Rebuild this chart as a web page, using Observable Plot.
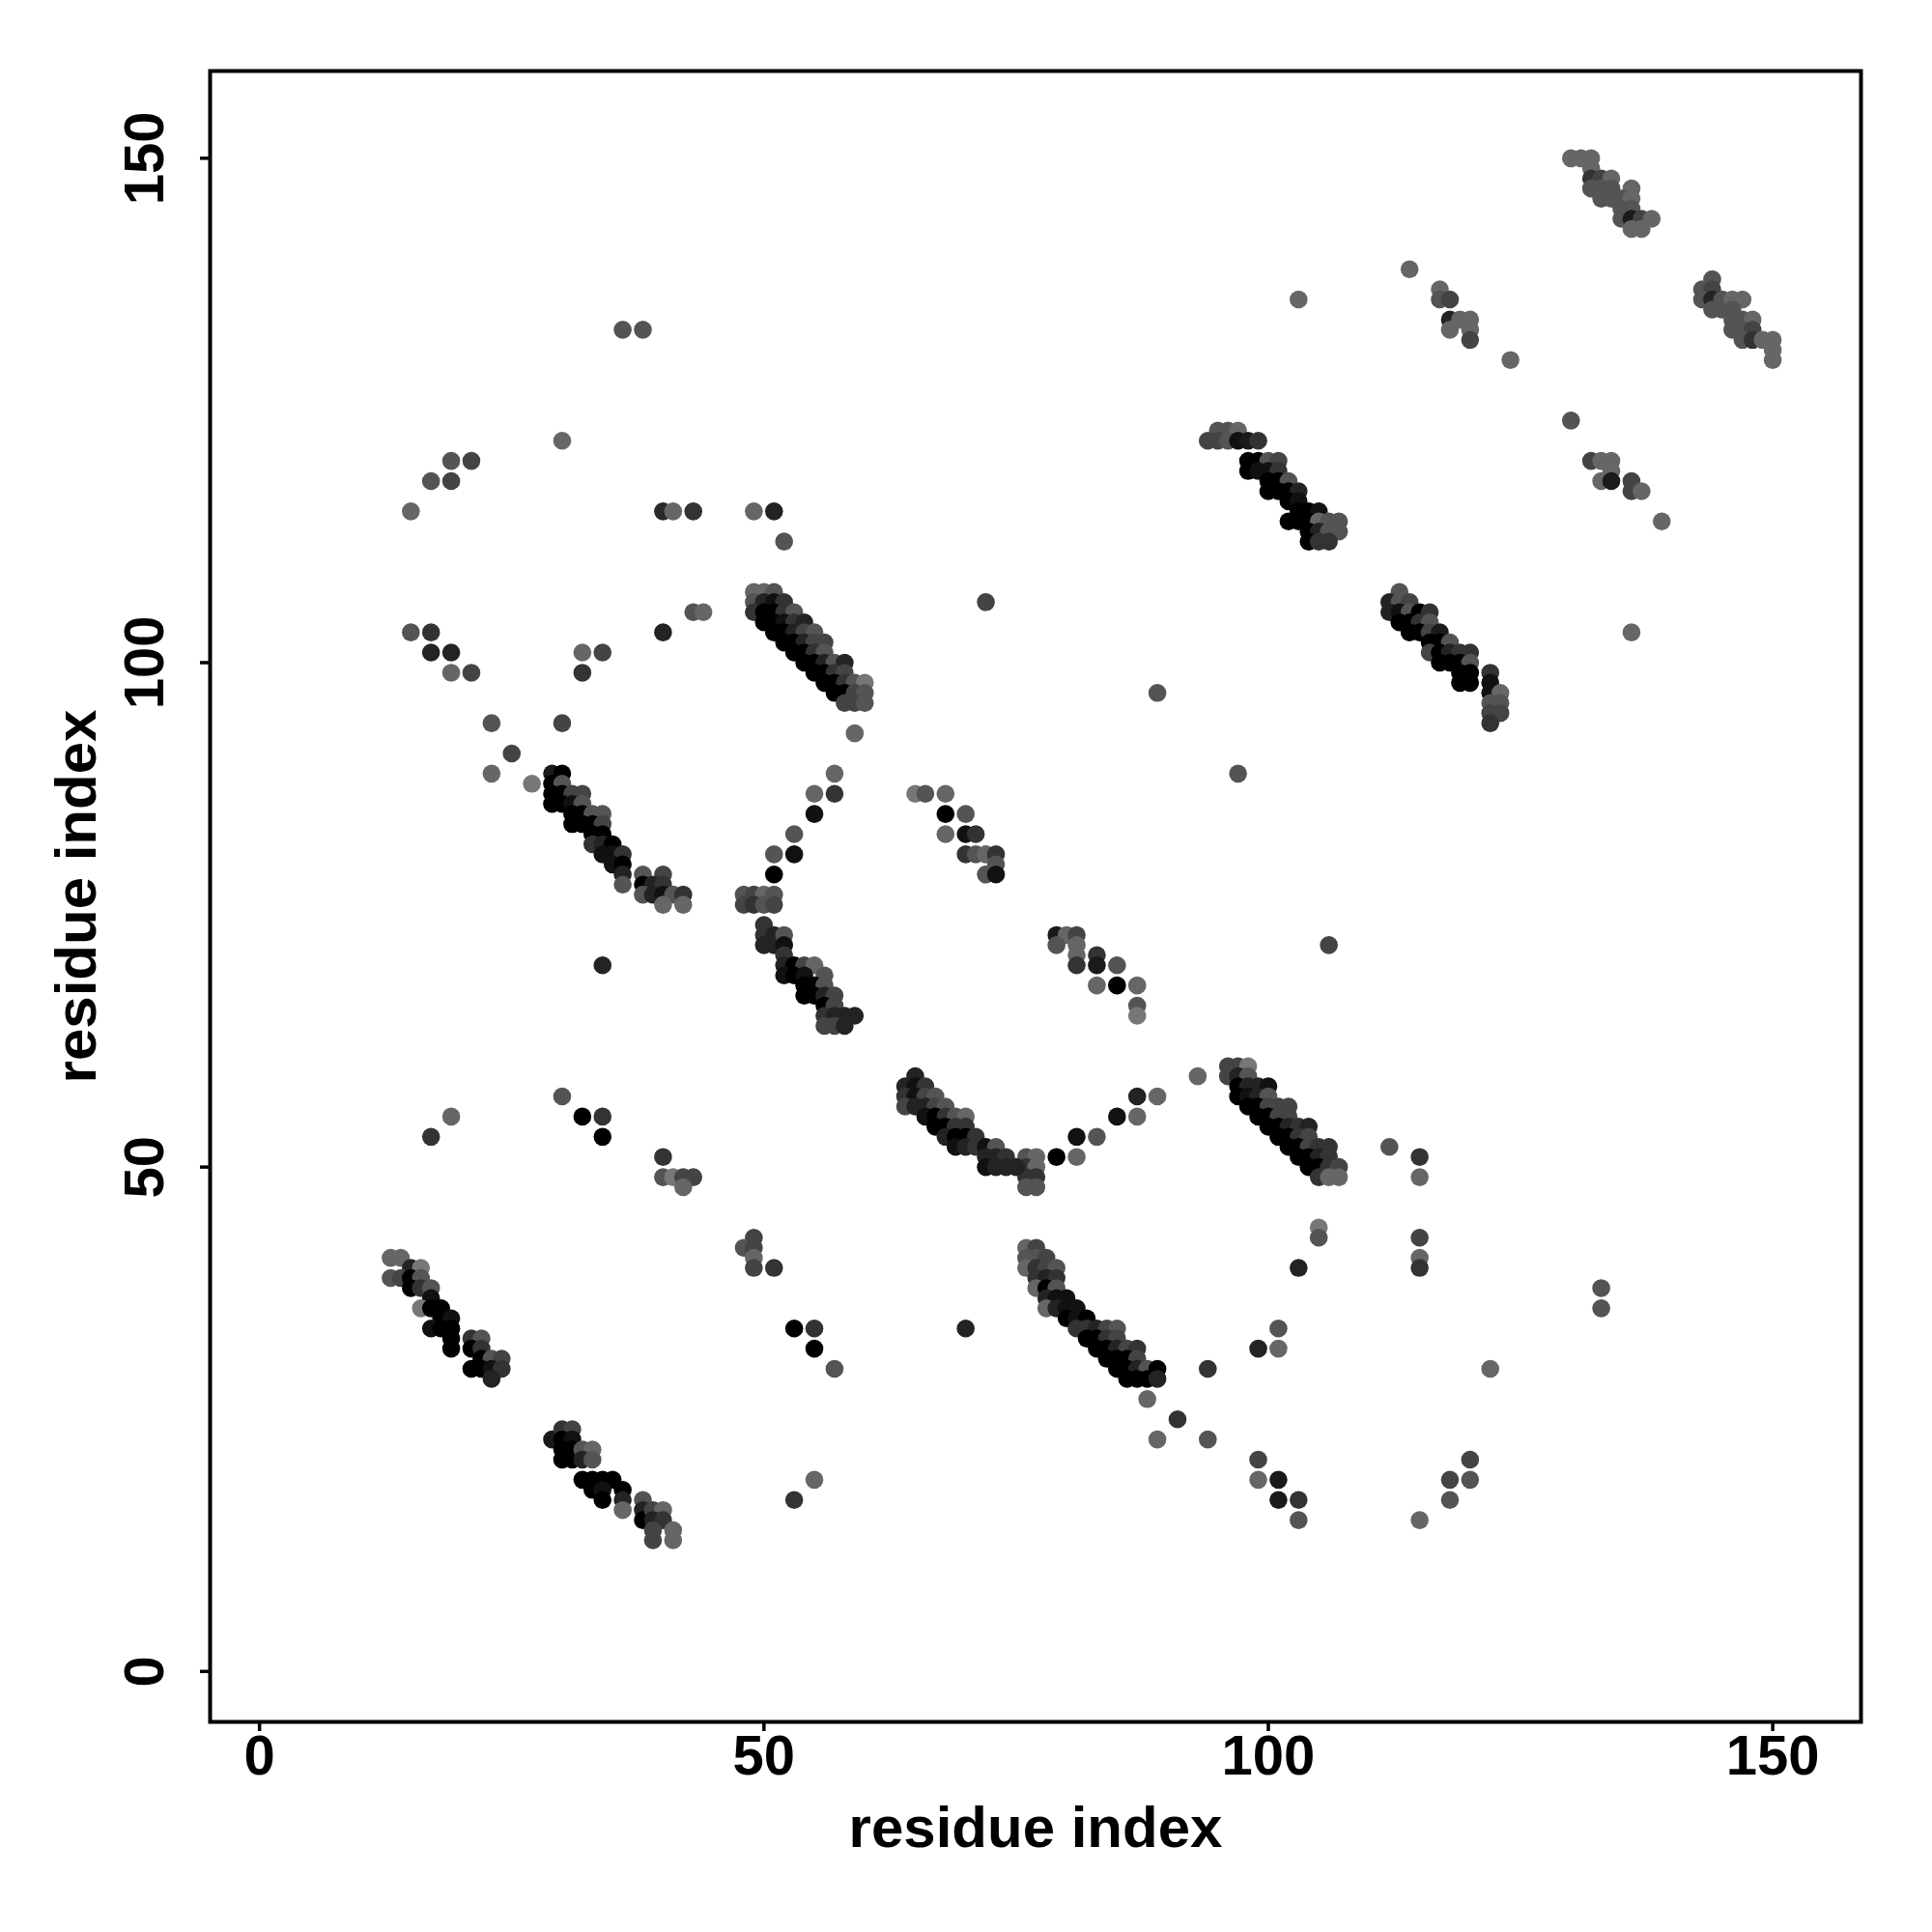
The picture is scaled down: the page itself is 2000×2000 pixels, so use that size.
<!DOCTYPE html>
<html><head><meta charset="utf-8">
<script src="https://cdn.jsdelivr.net/npm/d3@7"></script>
<script src="https://cdn.jsdelivr.net/npm/@observablehq/plot@0.6"></script>
<style>body{margin:0;background:#fff}</style>
</head><body><div id="chart"></div>
<script>
// each entry: [residue i (x), residue j (y), contact score 0..1 (1 = darkest)]
const singles = [
[36,133,.29],[38,133,.29],[30,122,.14],[19,120,.29],[21,120,.43],[17,118,.29],[19,118,.43],[15,115,.14],[40,115,.65],[41,115,.14],[43,115,.57],[43,105,.29],[44,105,.14],
[49,115,.14],[51,115,.71],[52,112,.29],[72,106,.43],[103,136,.14],[114,139,.14],
[124,130,.14],[130,124,.29],[139,114,.14],
[15,103,.29],[17,103,.57],[17,101,.71],[19,101,.71],[19,99,.14],[21,99,.43],[32,101,.14],[34,101,.43],[32,99,.57],[40,103,.71],
[23,94,.29],[30,94,.43],[25,91,.43],[23,89,.14],[27,88,0],[34,70,.71],[59,93,.14],
[89,97,.29],[97,89,.29],[106,72,.43],[93,59,.14],[136,103,.14],
[30,57,.29],[19,55,.14],[17,53,.57],[32,55,1],[34,55,.57],[34,53,1],
[40,51,.57],[40,49,.29],[41,49,0],[42,49,.43],[43,49,.43],[42,48,.14],
[49,43,.43],[48,42,.29],[49,42,.43],[49,41,.14],[49,40,.43],[51,40,.57],
[53,34,1],[55,34,.57],[55,32,1],[57,30,.29],[70,34,.71],[55,19,.14],[53,17,.57],
[79,51,1],[81,51,.14],[81,53,.86],[83,53,.29],[85,55,.86],[87,55,.14],[87,57,.71],[89,57,.14],
[88,27,.14],[91,25,.57],[89,23,.14],[94,23,.29],[94,30,.57],
[105,44,0],[105,43,.29],[103,40,.71],[112,52,.29],[115,51,.57],[115,49,.14],[115,43,.43],[115,41,.14],[115,40,.57],
[101,34,.29],[99,32,.71],[101,32,.14],
[99,21,.43],[99,19,.14],[101,19,.78],[101,17,.78],[103,17,.57],[103,15,.29],[115,15,.14],
[133,38,.29],[133,36,.29],[122,30,.14],[120,21,.43],[118,19,.43],[120,19,.29],[118,17,.29]
];
const smallClusters = [
[57,89,.14],[55,87,.14],[57,87,.57],[55,85,.86],[53,83,.29],[51,81,.29],[53,81,.86],[51,79,1],
[48,77,.29],[49,77,.43],[50,77,.14],[51,77,.29],[48,76,.43],[49,76,.57],[50,76,.29],[51,76,.43],
[65,87,0],[66,87,.29],[68,87,.14],[68,85,1],[70,85,.29],[68,83,.14],[70,83,.86],[71,83,.57],[70,81,.57],[71,81,.29],[72,81,.14],[73,81,.57],[73,80,.29],[72,79,.29],[73,79,.86],
[79,73,.78],[80,73,.14],[81,73,.43],[79,72,.29],[81,72,.14],[81,71,.14],[81,70,.57],[83,71,.57],[83,70,.78],[85,70,.29],[83,68,.14],[85,68,1],[87,68,.14],[87,66,.29],[87,65,0],
[76,51,.29],[77,51,.14],[76,50,.57],[77,50,.14],[76,49,.57],[77,49,.57],[76,48,.29],[77,48,.29],
[117,137,.14],[117,136,.29],[118,136,.43],[118,134,.71],[119,134,.14],[120,134,.14],[118,133,.14],[120,133,.14],[120,132,.43],
[132,120,.43],[133,120,.14],[134,120,.14],[134,119,.14],[133,118,.14],[134,118,.78],[136,118,.43],[136,117,.43],[137,117,.14]
];
const streakA = [
[95,123,.29],[96,123,.29],[97,123,.14],
[94,122,.43],[95,122,.43],[96,122,.29],[97,122,.86],[98,122,.78],[99,122,.57],
[98,120,1],[99,120,1],[100,120,.29],[101,120,.43],
[98,119,1],[99,119,.86],[100,119,.86],[101,119,.57],
[100,118,1],[101,118,1],[102,118,.29],
[100,117,1],[101,117,1],[102,117,1],[103,117,.71],
[102,116,1],[103,116,.86],
[103,115,1],[104,115,1],[105,115,.86],
[102,114,1],[103,114,1],[104,114,1],[105,114,.14],[106,114,.29],[107,114,.29],
[104,113,1],[105,113,.71],[106,113,.29],[107,113,.29],
[104,112,1],[105,112,.57],[106,112,.57]
];
const streakB = [
[130,150,.14],[131,150,.14],[132,150,.14],[132,149,.14],[132,148,.57],[133,148,.43],[134,148,.14],
[132,147,.29],[133,147,.29],[134,147,.29],[136,147,.14],[133,146,.29],[134,146,.29],[135,146,.29],[136,146,.14],
[135,145,.29],[136,145,.29],[135,144,.29],[136,144,.78],[137,144,.43],[138,144,.14],[136,143,.14],[137,143,.14]
];
const streakC = [
[144,138,.29],[143,137,.29],[144,137,.43],[143,136,.29],[144,136,.71],[144,135,.29],[145,136,.29],[145,135,.29],
[146,136,.14],[147,136,.14],[146,135,.29],[146,134,.29],[147,134,.29],[148,134,.14],[146,133,.29],[147,133,.29],
[148,133,.43],[147,132,.29],[148,132,.57],[149,132,.14],[150,132,.14],[150,131,.14],[150,130,.14]
];
const streakD = [
[29,89,.78],[30,89,1],[29,88,1],[30,88,.29],[29,87,1],[30,87,1],[31,87,.43],[32,87,.43],
[29,86,1],[30,86,1],[31,86,.86],[32,86,.29],[31,85,1],[32,85,1],[33,85,.29],[34,85,.29],
[31,84,1],[32,84,1],[33,84,1],[34,84,.43],[33,83,1],[34,83,1],[33,82,.57],[34,82,.71],[35,82,1],
[34,81,.86],[35,81,.86],[36,81,.57],[35,80,.86],[36,80,1],[36,79,.71],[38,79,.29],[40,79,.43],
[36,78,.29],[38,78,1],[39,78,.71],[40,78,.57],[38,77,.29],[39,77,.71],[40,77,.86],[41,77,.29],[42,77,.57],
[40,76,.14],[42,76,.14]
];
const streakE = [
[49,107,.14],[50,107,.14],[51,107,.29],
[49,106,.29],[50,106,.71],[51,106,.86],[52,106,.57],
[49,105,.57],[50,105,1],[51,105,1],[52,105,.57],[53,105,.29],
[50,104,1],[51,104,1],[52,104,.86],[53,104,.57],[54,104,.71],
[51,103,1],[52,103,1],[53,103,.71],[54,103,.43],[55,103,.29],
[52,102,1],[53,102,1],[54,102,.71],[55,102,.43],[56,102,.43],
[53,101,1],[54,101,1],[55,101,.57],[56,101,.29],
[54,100,1],[55,100,1],[56,100,.71],[57,100,.29],[58,100,.71],
[55,99,1],[56,99,1],[57,99,.57],[58,99,.43],
[56,98,1],[57,98,1],[58,98,.57],[59,98,.29],[60,98,0],
[57,97,1],[58,97,1],[59,97,.43],[60,97,.29],
[58,96,.43],[59,96,.43],[60,96,.29]
];
const streakF = [
[50,74,.57],[50,73,.57],[51,73,.71],[50,72,.71],[51,72,.71],[52,73,.29],[52,72,.86],[52,71,.57],
[52,70,.71],[53,70,1],[54,70,.43],[55,70,.14],[52,69,.86],[53,69,1],[54,69,.86],[56,69,.29],
[54,68,1],[55,68,1],[56,68,.29],[54,67,1],[55,67,1],[56,67,.71],[57,67,.43],[56,66,1],[57,66,.43],
[56,65,.57],[57,65,.71],[58,65,.71],[59,65,.71],[56,64,.43],[57,64,.43],[58,64,.71]
];
const streakH = [
[113,107,.29],[112,106,.71],[113,106,.29],[114,106,.43],
[112,105,.71],[113,105,.86],[114,105,.29],[115,105,1],[116,105,.57],
[113,104,1],[114,104,1],[115,104,.57],[116,104,.29],
[114,103,1],[115,103,1],[116,103,.43],[117,103,.78],
[116,102,1],[117,102,1],[118,102,.29],
[116,101,.43],[117,101,1],[118,101,.71],[119,101,.57],[120,101,.57],
[117,100,1],[118,100,1],[119,100,1],[120,100,.29],
[119,99,1],[120,99,1],[122,99,.57],[119,98,1],[120,98,1],[122,98,.86],
[122,97,.86],[123,97,.14],[122,96,.29],[123,96,.29],[122,95,.43],[123,95,.43],[122,94,.57]
];
const streakI = [
[13,41,.14],[14,41,.14],[15,40,.71],[16,40,0],[13,39,.29],[14,39,.43],[15,39,1],[16,39,.29],
[15,38,1],[16,38,.57],[17,38,.29],[17,37,.86],[16,36,0],[17,36,1],[18,36,1],[18,35,1],[19,35,.86],
[17,34,.86],[18,34,1],[19,34,1],[19,33,1],[19,32,1],[21,33,.57],[22,33,.29],[21,32,1],[22,32,.57],
[22,31,1],[23,31,.29],[24,31,.43],[21,30,1],[22,30,1],[23,30,.86],[24,30,.57],[23,29,.71]
];
const streakJ = [
[29,23,.78],[30,24,.57],[31,24,.43],[30,23,1],[31,23,.86],[30,22,1],[31,22,1],[30,21,1],[31,21,1],
[32,22,.29],[33,22,.14],[32,21,.71],[33,21,.29],[32,19,1],[33,19,1],[34,19,1],[35,19,1],
[33,18,1],[34,18,.86],[34,17,1],[36,18,1],[36,17,.71],[36,16,.14],[38,17,.29],[38,16,.71],
[38,15,1],[39,16,.43],[40,16,.14],[39,15,.71],[40,15,.57],[39,14,.43],[41,14,.14],[39,13,.43],[41,13,.14]
];
const streakK = [
[65,59,.71],[64,58,.71],[65,58,.86],[66,58,.57],
[64,57,.57],[65,57,.86],[66,57,.43],[67,57,.29],
[64,56,.43],[65,56,.71],[66,56,.71],[67,56,.43],[68,56,.29],
[66,55,.86],[67,55,1],[68,55,.57],[69,55,.29],[70,55,.14],
[67,54,1],[68,54,1],[69,54,.57],[70,54,.57],
[68,53,.71],[69,53,1],[70,53,1],[71,53,.57],
[69,52,.86],[70,52,.71],[71,52,.57],[72,52,.86],[73,52,.29],
[72,51,.71],[73,51,.71],[74,51,.57],
[72,50,.86],[73,50,.71],[74,50,.71],[75,50,.71]
];
const streakL = [
[76,42,.14],[77,42,.43],[76,41,.29],[77,41,.29],[78,41,.43],
[76,40,.14],[77,40,.57],[78,40,.43],[79,40,.29],[77,39,.57],[78,39,.71],[79,39,.57],
[77,38,.14],[78,38,1],[79,38,.29],[78,37,.71],[79,37,.86],[80,37,.86],
[78,36,.14],[79,36,.71],[80,36,.86],[81,36,.86],[80,35,1],[81,35,.86],[82,35,1],
[81,34,.57],[82,34,.57],[83,34,.71],[84,34,.43],[85,34,.29],
[82,33,1],[83,33,1],[84,33,.57],[85,33,.43],
[83,32,1],[84,32,1],[85,32,.71],[86,32,.43],[87,32,.57],
[84,31,1],[85,31,1],[86,31,1],[87,31,.43],
[85,30,1],[86,30,1],[87,30,.71],[88,30,.29],[89,30,1],
[86,29,1],[87,29,1],[88,29,1],[89,29,.71]
];
const streakM = [
[96,60,.43],[97,60,.43],[98,60,0],[96,59,.43],[97,59,.71],[98,59,.29],
[97,58,1],[98,58,.71],[99,58,.71],[100,58,.86],[97,57,1],[98,57,.86],[99,57,.71],[100,57,.29],
[98,56,1],[99,56,1],[100,56,.43],[101,56,.43],[102,56,.43],[99,55,1],[100,55,1],[101,55,.43],[102,55,.43],
[100,54,1],[101,54,1],[102,54,.71],[103,54,.57],[104,54,.71],[101,53,1],[102,53,1],[103,53,.57],[104,53,.43],
[102,52,1],[103,52,1],[104,52,.43],[105,52,.57],[106,52,.57],[103,51,1],[104,51,1],[105,51,.71],[106,51,.57],
[104,50,1],[105,50,1],[106,50,.57],[107,50,.43],[105,49,.57],[106,49,.14],[107,49,.14]
];

const xTicks = [0, 50, 100, 150];
const yTicks = [0, 50, 100, 150];
const axisTitle = "residue index";

const data = [singles, smallClusters, streakA, streakB, streakC, streakD, streakE, streakF,
  streakH, streakI, streakJ, streakK, streakL, streakM]
  .flatMap(a => a.map(([x, y, s]) => ({x, y, s})));

const font = "'Liberation Sans', Arial, Helvetica, sans-serif";
const chart = Plot.plot({
  width: 2000, height: 2000,
  marginLeft: 217, marginRight: 74, marginTop: 73, marginBottom: 218,
  x: {domain: [-4.9, 158.75], axis: null},
  y: {domain: [-5.0, 158.65], axis: null},
  color: {type: "linear", domain: [0, 1], range: ["#777777", "#000000"]},
  style: {fontFamily: font, fontWeight: "bold", background: "#ffffff", color: "#000"},
  marks: [
    Plot.dot(data, {x: "x", y: "y", r: 9.3, fill: "s", stroke: null}),
    Plot.frame({stroke: "#000", strokeWidth: 4}),
    Plot.axisX({ticks: xTicks, tickSize: 10, tickFormat: () => "", label: null, strokeWidth: 3.5}),
    Plot.axisY({ticks: yTicks, tickSize: 10, tickFormat: () => "", label: null, strokeWidth: 3.5}),
    Plot.text(xTicks, {x: d => d, frameAnchor: "bottom", dy: 36, text: d => String(d),
      fontSize: 58, fontWeight: "bold", fontFamily: font, fill: "#000", lineAnchor: "middle"}),
    Plot.text(yTicks, {y: d => d, frameAnchor: "left", dx: -67, rotate: -90, text: d => String(d),
      fontSize: 58, fontWeight: "bold", fontFamily: font, fill: "#000", lineAnchor: "middle", textAnchor: "middle"}),
    Plot.text([axisTitle], {frameAnchor: "bottom", dy: 110, text: d => d,
      fontSize: 60, fontWeight: "bold", fontFamily: font, fill: "#000", lineAnchor: "middle"}),
    Plot.text([axisTitle], {frameAnchor: "left", dx: -138, rotate: -90, text: d => d,
      fontSize: 60, fontWeight: "bold", fontFamily: font, fill: "#000", lineAnchor: "middle", textAnchor: "middle"})
  ]
});
document.getElementById("chart").appendChild(chart);
</script>
</body></html>
